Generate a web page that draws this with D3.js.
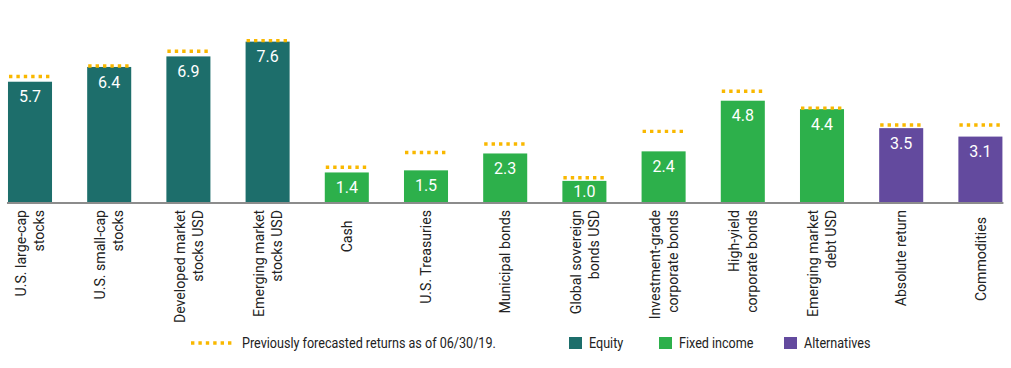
<!DOCTYPE html>
<html>
<head>
<meta charset="utf-8">
<script src="https://cdn.jsdelivr.net/npm/d3@7/dist/d3.min.js"></script>
<style>
  html, body { margin: 0; padding: 0; background: #fff; }
  svg { display: block; font-family: Roboto, "Liberation Sans", sans-serif; }
</style>
</head>
<body>
<svg id="chart" width="1011" height="368"></svg>
<script>
// ---- data ----
const categories = [
  ["U.S. large-cap", "stocks"],
  ["U.S. small-cap", "stocks"],
  ["Developed market", "stocks USD"],
  ["Emerging market", "stocks USD"],
  ["Cash\u00A0\u00A0\u00A0"],
  ["U.S. Treasuries"],
  ["Municipal bonds"],
  ["Global sovereign", "bonds USD"],
  ["Investment-grade", "corporate bonds"],
  ["High-yield", "corporate bonds"],
  ["Emerging market", "debt USD"],
  ["Absolute return"],
  ["Commodities\u00A0\u00A0"]
];
const groups = ["Equity","Equity","Equity","Equity",
  "Fixed income","Fixed income","Fixed income","Fixed income","Fixed income","Fixed income","Fixed income",
  "Alternatives","Alternatives"];
const currentValues = [5.7, 6.4, 6.9, 7.6, 1.4, 1.5, 2.3, 1.0, 2.4, 4.8, 4.4, 3.5, 3.1];
const previousValues = [5.9, 6.4, 7.1, 7.6, 1.6, 2.3, 2.7, 1.1, 3.3, 5.2, 4.4, 3.6, 3.6];
const legendGroups = ["Equity", "Fixed income", "Alternatives"];
const previousLabel = "Previously forecasted returns as of 06/30/19.";

// ---- styles ----
const colors = { "Equity": "#1d6e6b", "Fixed income": "#2db04b", "Alternatives": "#634a9e" };
const dotColor = "#f9b800";

const svg = d3.select("#chart");
const x = d3.scaleBand()
  .domain(d3.range(categories.length))
  .range([-9.6, -9.6 + 13 * 79.2])
  .paddingInner(0.444)
  .paddingOuter(0.222);
const y = d3.scaleLinear().domain([0, 8]).range([202, 202 - 8 * 21.1]);

const idx = d3.range(categories.length);

// bars
svg.append("g").selectAll("rect").data(idx).join("rect")
  .attr("x", i => x(i))
  .attr("y", i => y(currentValues[i]))
  .attr("width", x.bandwidth())
  .attr("height", i => y(0) - y(currentValues[i]))
  .attr("fill", i => colors[groups[i]]);

// baseline
svg.append("line")
  .attr("x1", x(0) - 1).attr("x2", x(categories.length - 1) + x.bandwidth() + 1)
  .attr("y1", y(0) + 1).attr("y2", y(0) + 1)
  .attr("stroke", "#8c8c8c").attr("stroke-width", 2);

// previous forecast dotted lines
svg.append("g").selectAll("line").data(idx).join("line")
  .attr("x1", i => x(i) + 1)
  .attr("x2", i => x(i) + x.bandwidth())
  .attr("y1", i => y(previousValues[i]) - 1)
  .attr("y2", i => y(previousValues[i]) - 1)
  .attr("stroke", dotColor)
  .attr("stroke-width", 3.4)
  .attr("stroke-dasharray", "3.4 4");

// value labels
svg.append("g").selectAll("text").data(idx).join("text")
  .attr("x", i => x(i) + x.bandwidth() / 2)
  .attr("y", i => {
    const top = y(currentValues[i]);
    return Math.min(top + 15, (top + y(0)) / 2);
  })
  .attr("dy", "0.36em")
  .attr("text-anchor", "middle")
  .attr("fill", "#fff")
  .attr("font-size", 16)
  .text(i => currentValues[i].toFixed(1));

// category labels (rotated)
const lab = svg.append("g").selectAll("g").data(idx).join("g")
  .attr("transform", i => `translate(${x(i) + x.bandwidth() / 2},210) rotate(-90) scale(0.94,1)`);
lab.each(function(i) {
  const lines = categories[i];
  const n = lines.length;
  d3.select(this).selectAll("text").data(lines).join("text")
    .attr("x", 0)
    .attr("y", (d, k) => (k - (n - 1) / 2) * 18)
    .attr("dy", "0.35em")
    .attr("text-anchor", "end")
    .attr("fill", "#222")
    .attr("font-size", 15)
    .text(d => d);
});

// legend
const ly = 343;
svg.append("line")
  .attr("x1", 191).attr("x2", 234).attr("y1", ly).attr("y2", ly)
  .attr("stroke", dotColor).attr("stroke-width", 3.4).attr("stroke-dasharray", "3.4 4");
svg.append("text")
  .attr("transform", `translate(242,${ly}) scale(0.9,1)`)
  .attr("dy", "0.35em")
  .attr("font-size", 14).attr("fill", "#222")
  .text(previousLabel);

const legendX = [569, 659, 784];
const lg = svg.append("g").selectAll("g").data(legendGroups).join("g")
  .attr("transform", (d, k) => `translate(${legendX[k]},${ly})`);
lg.append("rect").attr("x", 0).attr("y", -6).attr("width", 13).attr("height", 12)
  .attr("fill", d => colors[d]);
lg.append("text").attr("transform", "translate(20,0) scale(0.9,1)").attr("dy", "0.35em")
  .attr("font-size", 14).attr("fill", "#222").text(d => d);
</script>
</body>
</html>
